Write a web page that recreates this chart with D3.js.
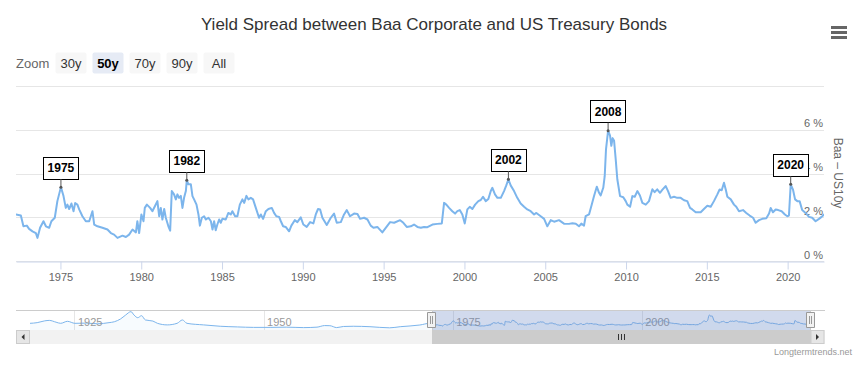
<!DOCTYPE html>
<html><head><meta charset="utf-8">
<script src="https://cdn.jsdelivr.net/npm/d3@7"></script>
<style>
body{margin:0;background:#fff;}
svg{display:block;font-family:"Liberation Sans",Arial,Helvetica,sans-serif;}
</style>
</head><body>
<svg id="c" width="868" height="371"></svg>
<script>
// ---------------- DATA ----------------
const chartTitle = "Yield Spread between Baa Corporate and US Treasury Bonds";
const yAxisTitle = "Baa \u2013 US10y";
const creditText = "Longtermtrends.net";
const zoomButtons = ["30y", "50y", "70y", "90y", "All"];
const selectedButton = "50y";

// main series (decimal year, spread in %)
const years = [1972.25,1972.55,1972.71,1972.92,1973.06,1973.27,1973.48,1973.58,1973.74,1973.95,1974.10,1974.30,1974.44,1974.65,1974.81,1975.03,1975.19,1975.33,1975.43,1975.54,1975.68,1975.81,1975.91,1976.05,1976.16,1976.36,1976.57,1976.78,1976.98,1977.09,1977.29,1977.60,1977.91,1978.12,1978.32,1978.53,1978.84,1979.05,1979.25,1979.46,1979.67,1979.76,1979.87,1980.01,1980.14,1980.22,1980.35,1980.55,1980.69,1980.86,1981.00,1981.11,1981.21,1981.31,1981.42,1981.52,1981.68,1981.79,1981.89,1982.03,1982.14,1982.24,1982.34,1982.45,1982.55,1982.65,1982.76,1982.82,1982.92,1983.07,1983.17,1983.27,1983.42,1983.54,1983.63,1983.75,1983.89,1984.00,1984.16,1984.31,1984.41,1984.51,1984.61,1984.71,1984.82,1984.92,1985.02,1985.23,1985.39,1985.54,1985.64,1985.81,1985.95,1986.10,1986.26,1986.37,1986.51,1986.63,1986.78,1986.92,1987.09,1987.29,1987.40,1987.54,1987.71,1987.87,1988.08,1988.22,1988.36,1988.53,1988.64,1988.78,1988.94,1989.15,1989.29,1989.50,1989.66,1989.87,1990.03,1990.24,1990.45,1990.65,1990.80,1990.94,1991.07,1991.21,1991.48,1991.73,1991.93,1992.10,1992.35,1992.55,1992.72,1992.92,1993.17,1993.38,1993.54,1993.79,1994.00,1994.20,1994.37,1994.61,1994.92,1995.13,1995.40,1995.65,1996.02,1996.22,1996.43,1996.68,1996.88,1997.09,1997.30,1997.50,1997.71,1998.02,1998.32,1998.60,1998.74,1998.88,1999.05,1999.25,1999.42,1999.56,1999.71,1999.87,2000.02,2000.18,2000.33,2000.49,2000.66,2000.86,2001.01,2001.15,2001.32,2001.48,2001.63,2001.73,2001.89,2002.04,2002.25,2002.45,2002.59,2002.72,2002.86,2003.07,2003.27,2003.48,2003.69,2003.89,2004.10,2004.31,2004.45,2004.72,2004.93,2005.13,2005.34,2005.55,2005.85,2006.16,2006.47,2006.68,2006.89,2007.09,2007.23,2007.40,2007.50,2007.71,2007.85,2008.02,2008.19,2008.33,2008.43,2008.59,2008.68,2008.76,2008.89,2009.01,2009.09,2009.17,2009.26,2009.36,2009.46,2009.63,2009.83,2009.98,2010.08,2010.25,2010.39,2010.54,2010.70,2010.86,2011.01,2011.22,2011.42,2011.63,2011.77,2011.93,2012.10,2012.24,2012.45,2012.60,2012.76,2012.97,2013.17,2013.38,2013.59,2013.79,2013.96,2014.10,2014.31,2014.62,2014.82,2015.03,2015.24,2015.44,2015.65,2015.79,2015.92,2016.06,2016.17,2016.27,2016.48,2016.68,2016.82,2016.99,2017.24,2017.44,2017.65,2017.86,2018.02,2018.23,2018.43,2018.68,2018.85,2018.95,2019.09,2019.26,2019.42,2019.63,2019.83,2019.98,2020.08,2020.19,2020.33,2020.46,2020.60,2020.74,2020.90,2021.11,2021.32,2021.52,2021.73,2021.94,2022.10,2022.25];
const spread = [2.15,2.10,1.61,1.64,1.49,1.38,1.30,1.08,1.54,1.84,1.61,1.54,1.84,2.00,2.76,3.40,2.99,2.45,2.60,2.40,2.65,2.30,2.67,2.60,2.38,2.07,1.84,1.84,2.30,1.69,1.61,1.54,1.46,1.30,1.23,1.08,1.18,1.12,1.23,1.46,1.33,1.84,1.30,2.15,1.84,2.45,2.60,2.45,2.30,2.55,2.76,2.07,2.45,1.92,2.40,2.00,1.61,1.41,3.22,3.07,2.84,3.07,2.91,3.00,2.45,2.91,3.22,3.72,3.53,3.53,2.99,2.84,2.60,2.15,1.64,2.00,2.07,1.92,2.00,1.84,1.46,1.84,1.43,1.69,1.92,1.77,1.95,1.92,2.22,2.15,2.30,2.07,2.07,2.60,2.84,2.68,3.00,2.84,2.91,2.84,2.45,2.00,2.15,1.95,2.30,2.40,2.45,2.22,2.07,2.04,1.84,1.61,1.58,1.38,1.64,1.89,1.80,2.02,1.69,1.58,1.80,1.74,2.15,2.40,2.38,2.00,1.67,2.00,2.19,1.77,1.80,2.15,2.35,2.07,2.19,2.17,1.95,2.00,1.92,1.64,1.54,1.58,1.33,1.54,1.80,1.77,1.89,1.77,1.58,1.61,1.69,1.58,1.54,1.58,1.57,1.69,1.72,1.74,2.68,2.60,2.45,2.30,2.19,2.30,2.35,2.15,1.74,2.38,2.50,2.40,2.60,2.76,2.81,2.96,2.76,2.86,3.22,3.37,3.07,2.91,2.91,3.22,3.48,3.76,3.48,3.22,2.91,2.65,2.50,2.38,2.30,2.15,2.22,2.07,1.95,1.61,1.89,1.82,1.89,1.73,1.72,1.75,1.73,1.61,1.73,1.64,2.07,2.15,2.53,2.99,3.42,3.14,3.02,3.37,3.90,5.13,5.98,5.75,5.29,5.64,5.52,4.68,3.76,2.99,2.94,2.76,2.60,2.50,2.99,2.96,3.22,3.02,2.68,2.60,2.76,3.30,3.17,3.30,3.14,3.27,3.45,3.22,2.91,2.96,2.91,2.91,2.80,2.76,2.45,2.38,2.25,2.25,2.40,2.55,2.50,2.76,3.07,3.29,3.26,3.60,3.29,2.96,2.84,2.60,2.50,2.30,2.35,2.22,2.10,2.00,1.77,1.89,1.95,1.98,2.19,2.45,2.25,2.38,2.35,2.30,2.15,2.07,2.10,3.53,3.29,2.84,2.76,2.76,2.35,2.22,2.04,2.00,1.84,1.95,2.04,2.15];

// earlier history, shown only in the navigator
const historyYears = [1919.05,1920.0,1921.0,1921.6,1922.5,1923.1,1924.0,1925.0,1926.5,1928.0,1929.5,1930.2,1931.0,1931.7,1932.4,1932.8,1933.3,1933.8,1934.3,1935.3,1935.9,1937.2,1938.5,1939.2,1939.8,1942.0,1944.2,1946.5,1948.6,1950.8,1953.0,1955.2,1957.0,1958.0,1958.7,1959.6,1960.5,1961.8,1964.0,1966.6,1968.0,1970.6,1971.9];
const historySpread = [2.3,2.6,3.4,3.6,2.8,2.3,3.2,2.3,2.4,2.1,2.6,3.0,4.2,6.0,7.5,6.0,4.8,5.7,3.8,3.3,2.3,1.6,2.3,3.8,2.3,1.6,1.0,0.7,0.5,0.5,0.6,0.4,0.6,1.3,1.25,0.4,0.9,1.0,0.8,0.3,0.8,1.55,2.3];

const xTicks = [1975,1980,1985,1990,1995,2000,2005,2010,2015,2020];
const yTicks = [0,2,4,6,8];
const yLabelTicks = [0,2,4,6];
const navTicks = [1925,1950,1975,2000];

const flagYears = [1975.03,1982.82,2002.72,2008.89,2020.19];
const flagTitles = ["1975","1982","2002","2008","2020"];

// ---------------- CHART ----------------
const svg = d3.select("#c");
const plot = {left:16, right:824, top:86.5, bottom:261.5};
const nav = {left:30, right:810.5, top:310, bottom:330};
const fullExtent = [historyYears[0], years[years.length-1]];
const viewExtent = [years[0], years[years.length-1]];

const x = d3.scaleLinear().domain(viewExtent).range([plot.left, plot.right]);
const y = d3.scaleLinear().domain([0, 8]).range([plot.bottom, plot.top]);
const crisp = v => Math.round(v - 0.5) + 0.5;

// title
const t = svg.append("text").attr("x", 434).attr("y", 30).attr("text-anchor","middle")
  .attr("fill","#333").style("font-size","17px").text(chartTitle);
const tl = t.node().getComputedTextLength();
if (Math.abs(tl - 465) > 4) t.attr("textLength", 465).attr("lengthAdjust","spacingAndGlyphs");

// menu icon
[27.5, 32.5, 37.5].forEach(v => svg.append("line").attr("x1",831).attr("x2",847)
  .attr("y1",v).attr("y2",v).attr("stroke","#666").attr("stroke-width",3));

// range selector
svg.append("text").attr("x",16).attr("y",67.5).attr("fill","#666").style("font-size","13px").text("Zoom");
zoomButtons.forEach((b,i) => {
  const bx = 55 + i*37, sel = b === selectedButton;
  svg.append("rect").attr("x",bx+0.5).attr("y",52.5).attr("width",31).attr("height",21).attr("rx",2)
    .attr("fill", sel ? "#e6ebf5" : "#f7f7f7");
  svg.append("text").attr("x",bx+16).attr("y",67.5).attr("text-anchor","middle")
    .attr("fill", sel ? "#000" : "#333").style("font-size","13px")
    .style("font-weight", sel ? "bold" : "normal").text(b);
});

// grid
svg.append("g").selectAll("line").data(yTicks).join("line")
  .attr("x1",plot.left).attr("x2",plot.right)
  .attr("y1",d=>crisp(y(d))).attr("y2",d=>crisp(y(d)))
  .attr("stroke","#e6e6e6");

// x axis
const xa = svg.append("g").attr("transform",`translate(0,${crisp(plot.bottom)})`)
  .call(d3.axisBottom(x).tickValues(xTicks).tickFormat(d3.format("d")).tickSize(8).tickSizeOuter(0).tickPadding(4));
xa.select(".domain").attr("stroke","#ccd6eb");
xa.selectAll(".tick line").attr("stroke","#ccd6eb");
xa.selectAll(".tick text").attr("fill","#666").style("font-size","11px").style("font-family","inherit");

// y labels
svg.append("g").selectAll("text").data(yLabelTicks).join("text")
  .attr("x",823).attr("y",d=>y(d)-3).attr("text-anchor","end")
  .attr("fill","#666").style("font-size","11px").text(d=>d+" %");
svg.append("text").attr("transform","translate(833.5,173) rotate(90)")
  .attr("text-anchor","middle").attr("fill","#666").style("font-size","12px").text(yAxisTitle);

// main line
svg.append("clipPath").attr("id","clip").append("rect")
  .attr("x",plot.left).attr("y",plot.top-10).attr("width",plot.right-plot.left).attr("height",plot.bottom-plot.top+10);
const pts = years.map((d,i)=>[d, spread[i]]);
svg.append("path").datum(pts).attr("clip-path","url(#clip)")
  .attr("d", d3.line().x(d=>x(d[0])).y(d=>y(d[1])))
  .attr("fill","none").attr("stroke","#7cb5ec").attr("stroke-width",2)
  .attr("stroke-linejoin","round").attr("stroke-linecap","round");

// flags
flagYears.forEach((fy,i) => {
  let bi = 0; years.forEach((yy,j)=>{ if (Math.abs(yy-fy) < Math.abs(years[bi]-fy)) bi = j; });
  const px = x(years[bi]), py = y(spread[bi]);
  const g = svg.append("g");
  const txt = g.append("text").attr("x",px).attr("y",py-15).attr("text-anchor","middle")
    .style("font-size","12px").style("font-weight","bold").attr("fill","#000").text(flagTitles[i]);
  const w = txt.node().getComputedTextLength() + 8;
  const bb = py - 8;
  g.insert("rect","text").attr("x",crisp(px - w/2)).attr("y",crisp(bb-22)).attr("width",Math.round(w)).attr("height",22)
    .attr("fill","#fff").attr("stroke","#000").attr("stroke-width",1);
  g.insert("line","text").attr("x1",px).attr("x2",px).attr("y1",bb).attr("y2",py).attr("stroke","#555");
  g.append("circle").attr("cx",px).attr("cy",py).attr("r",1.5).attr("fill","#555");
});

// ---------------- NAVIGATOR ----------------
const nx = d3.scaleLinear().domain(fullExtent).range([nav.left, nav.right]);
const ny = d3.scaleLinear().domain([0, 8]).range([nav.bottom-1.5, nav.top+0.5]);
const navPts = historyYears.map((d,i)=>[d, historySpread[i]]).concat(pts);

svg.append("g").selectAll("line").data(navTicks).join("line")
  .attr("x1",d=>crisp(nx(d))).attr("x2",d=>crisp(nx(d))).attr("y1",nav.top).attr("y2",nav.bottom)
  .attr("stroke","#e6e6e6");
svg.append("path").datum(navPts)
  .attr("d", d3.area().curve(d3.curveMonotoneX).x(d=>nx(d[0])).y0(nav.bottom).y1(d=>ny(d[1])))
  .attr("fill","rgba(124,181,236,0.06)");
svg.append("path").datum(navPts)
  .attr("d", d3.line().curve(d3.curveMonotoneX).x(d=>nx(d[0])).y(d=>ny(d[1])))
  .attr("fill","none").attr("stroke","#7cb5ec").attr("stroke-width",1);
svg.append("g").selectAll("text").data(navTicks).join("text")
  .attr("x",d=>nx(d)+3).attr("y",326).attr("fill","#999").style("font-size","11px").text(d=>d);

const m0 = nx(viewExtent[0]), m1 = nx(viewExtent[1]);
svg.append("rect").attr("x",m0).attr("y",nav.top).attr("width",m1-m0).attr("height",nav.bottom-nav.top)
  .attr("fill","rgba(102,133,194,0.3)");
svg.append("path").attr("d",`M16,${nav.top+0.5}H${crisp(m0)}V${nav.bottom}M${crisp(m0)},${nav.top+0.5}H${crisp(m1)}V${nav.bottom}M${crisp(m1)},${nav.top+0.5}H825`)
  .attr("fill","none").attr("stroke","#cccccc");

[m0, m1].forEach(hx => {
  const cx = Math.round(hx), cy = (nav.top+nav.bottom)/2 - 8;
  svg.append("path").attr("transform",`translate(${cx},${cy})`)
    .attr("d","M-4.5,0.5L3.5,0.5L3.5,15.5L-4.5,15.5ZM-1.5,4L-1.5,12M0.5,4L0.5,12")
    .attr("fill","#f2f2f2").attr("stroke","#999");
});

// scrollbar
const sb = {top:330, h:14};
svg.append("rect").attr("x",16.5).attr("y",sb.top+0.5).attr("width",808).attr("height",sb.h-1)
  .attr("fill","#f2f2f2").attr("stroke","#f2f2f2");
svg.append("rect").attr("x",crisp(m0)).attr("y",sb.top+0.5).attr("width",m1-m0).attr("height",sb.h-1)
  .attr("fill","#cccccc").attr("stroke","#cccccc");
const rc = (m0+m1)/2;
[-3,0,3].forEach(o => svg.append("line").attr("x1",crisp(rc+o)).attr("x2",crisp(rc+o))
  .attr("y1",sb.top+4).attr("y2",sb.top+10).attr("stroke","#333"));
[[16.5,-1],[nav.right+0.5,1]].forEach(([bx,dir]) => {
  svg.append("rect").attr("x",bx).attr("y",sb.top+0.5).attr("width",13).attr("height",sb.h-1)
    .attr("fill","#e6e6e6").attr("stroke","#cccccc");
  const cx = bx+6.5, cy = sb.top+sb.h/2;
  svg.append("path").attr("d", dir<0 ? `M${cx+1.5},${cy-3}L${cx-1.5},${cy}L${cx+1.5},${cy+3}Z` : `M${cx-1.5},${cy-3}L${cx+1.5},${cy}L${cx-1.5},${cy+3}Z`)
    .attr("fill","#333");
});

// credits
svg.append("text").attr("x",852).attr("y",355).attr("text-anchor","end")
  .attr("fill","#999").style("font-size","9px").text(creditText);
</script>
</body></html>
